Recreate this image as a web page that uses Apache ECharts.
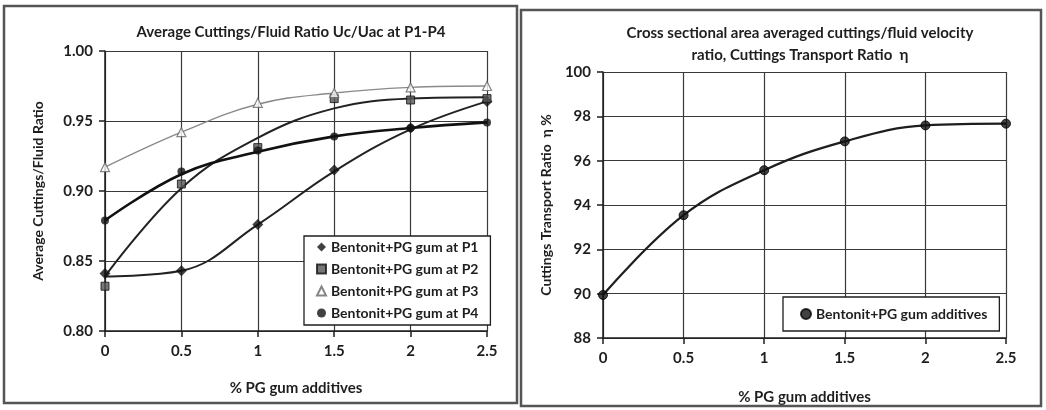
<!DOCTYPE html>
<html>
<head>
<meta charset="utf-8">
<script src="https://cdn.jsdelivr.net/npm/echarts@6/dist/echarts.min.js"></script>
<style>
  html, body { margin: 0; padding: 0; background: #fff; }
  #chart { width: 1046px; height: 410px; }
</style>
</head>
<body>
<div id="chart"></div>
<script>
// % PG gum additive concentrations
const gumPercent = [0, 0.5, 1, 1.5, 2, 2.5];

// Measured average cuttings/fluid velocity ratio at each probe position
const ratioP1 = [0.841, 0.843, 0.876, 0.915, 0.945, 0.964];
const ratioP2 = [0.832, 0.905, 0.931, 0.966, 0.965, 0.966];
const ratioP3 = [0.917, 0.942, 0.963, 0.970, 0.974, 0.975];
const ratioP4 = [0.879, 0.914, 0.929, 0.939, 0.945, 0.949];

// Fitted trend curve values at the same concentrations
const trendP1 = [0.839, 0.843, 0.876, 0.914, 0.944, 0.964];
const trendP2 = [0.839, 0.902, 0.938, 0.959, 0.966, 0.967];
const trendP3 = [0.917, 0.942, 0.962, 0.970, 0.974, 0.975];
const trendP4 = [0.879, 0.912, 0.928, 0.939, 0.945, 0.949];

// Cross-section averaged cuttings transport ratio (%)
const transportRatio = [89.94, 93.54, 95.57, 96.87, 97.59, 97.67];

// Axis tick settings
const leftTicks = { min: 0.80, max: 1.00, step: 0.05 };
const rightTicks = { min: 88, max: 100, step: 2 };
const xTicks = { min: 0, max: 2.5, step: 0.5 };

const seriesNames = [
  'Bentonit+PG gum at P1',
  'Bentonit+PG gum at P2',
  'Bentonit+PG gum at P3',
  'Bentonit+PG gum at P4'
];
const rightName = 'Bentonit+PG gum additives';

const pairs = (ys) => gumPercent.map((x, i) => [x, ys[i]]);

const FONT = 'Lato, "Open Sans", sans-serif';
const INK = '#1e1e1e';
const GRIDC = '#3a3a3a';

function xAxisCfg(gridIndex) {
  return {
    type: 'value', gridIndex,
    min: xTicks.min, max: xTicks.max, interval: xTicks.step,
    name: '% PG gum additives', nameLocation: 'middle',
    nameGap: gridIndex === 0 ? 50 : 52,
    nameTextStyle: { fontFamily: FONT, fontSize: 15, fontWeight: 'bold', color: INK },
    axisLine: { show: true, lineStyle: { color: INK, width: 1.5 } },
    axisTick: { show: true, inside: false, length: 6, lineStyle: { color: INK, width: 1.5 } },
    axisLabel: { fontFamily: FONT, fontSize: 15, fontWeight: 'bold', color: INK, margin: 13,
      formatter: (v) => String(v) },
    splitLine: { show: true, lineStyle: { color: GRIDC, width: 1.2 } }
  };
}

function yAxisCfg(gridIndex, t, name, digits) {
  return {
    type: 'value', gridIndex,
    min: t.min, max: t.max, interval: t.step,
    name, nameLocation: 'middle', nameGap: gridIndex === 0 ? 60 : 50,
    nameTextStyle: { fontFamily: FONT, fontSize: 14, fontWeight: 'bold', color: INK },
    axisLine: { show: true, lineStyle: { color: INK, width: 1.5 } },
    axisTick: { show: true, length: 6, lineStyle: { color: INK, width: 1.5 } },
    axisLabel: { fontFamily: FONT, fontSize: 15, fontWeight: 'bold', color: INK, margin: 12,
      formatter: (v) => v.toFixed(digits) },
    splitLine: { show: true, lineStyle: { color: GRIDC, width: 1.2 } }
  };
}

// Trend curve (line without symbols) for a data set
function trendLine(name, data, color, width, xi, yi) {
  return {
    name, type: 'line', xAxisIndex: xi, yAxisIndex: yi,
    data: pairs(data), smooth: 0.4, showSymbol: false, symbol: 'none',
    lineStyle: { color, width }, silent: true, z: 3,
    legendHoverLink: false
  };
}

// Markers for the measured values
function markers(name, data, symbol, size, itemStyle, xi, yi) {
  return {
    name, type: 'scatter', xAxisIndex: xi, yAxisIndex: yi,
    data: pairs(data), symbol, symbolSize: size, itemStyle, z: 5
  };
}

const chart = echarts.init(document.getElementById('chart'), null, { renderer: 'canvas' });

const legendText = { fontFamily: FONT, fontSize: 14, fontWeight: 'bold', color: INK };
const titleStyle = { fontFamily: FONT, fontSize: 15, fontWeight: 'bold', fill: INK, align: 'center', verticalAlign: 'middle' };

chart.setOption({
  backgroundColor: '#ffffff',
  animation: false,
  grid: [
    { left: 105, top: 51, width: 382, height: 280 },
    { left: 603, top: 72, width: 403, height: 266 }
  ],
  xAxis: [xAxisCfg(0), xAxisCfg(1)],
  yAxis: [
    yAxisCfg(0, leftTicks, 'Average Cuttings/Fluid Ratio', 2),
    yAxisCfg(1, rightTicks, 'Cuttings Transport Ratio  η %', 0)
  ],
  legend: [
    {
      data: seriesNames.map((n) => ({ name: n })),
      orient: 'vertical', left: 304, top: 236,
      itemWidth: 9, itemHeight: 9, itemGap: 8,
      padding: [4, 12, 5, 12],
      borderColor: INK, borderWidth: 1.3, backgroundColor: '#fff',
      textStyle: legendText, selectedMode: false
    },
    {
      data: [{ name: rightName }],
      left: 783, top: 297,
      itemWidth: 10, itemHeight: 10, itemGap: 4,
      padding: [10, 12, 10, 17],
      borderColor: INK, borderWidth: 1.3, backgroundColor: '#fff',
      textStyle: legendText, selectedMode: false
    }
  ],
  graphic: [
    { type: 'text', x: 291, y: 32, style: Object.assign({ text: 'Average Cuttings/Fluid Ratio Uc/Uac at P1-P4' }, titleStyle) },
    { type: 'text', x: 800, y: 33, style: Object.assign({ text: 'Cross sectional area averaged cuttings/fluid velocity' }, titleStyle) },
    { type: 'text', x: 800, y: 55, style: Object.assign({ text: 'ratio, Cuttings Transport Ratio  η' }, titleStyle) },
    { type: 'rect', shape: { x: 4, y: 6, width: 513, height: 397 },
      style: { fill: 'none', stroke: '#555', lineWidth: 2.5 }, z: 100 },
    { type: 'rect', shape: { x: 521, y: 10, width: 520, height: 396 },
      style: { fill: 'none', stroke: '#555', lineWidth: 2.5 }, z: 100 }
  ],
  series: [
    trendLine('tP1', trendP1, '#222', 2, 0, 0),
    trendLine('tP2', trendP2, '#222', 2, 0, 0),
    trendLine('tP3', trendP3, '#8a8a8a', 1.4, 0, 0),
    trendLine('tP4', trendP4, '#111', 2.6, 0, 0),
    markers(seriesNames[0], ratioP1, 'diamond', 11, { color: '#111' }, 0, 0),
    markers(seriesNames[1], ratioP2, 'rect', 8, { color: '#555', borderColor: '#111', borderWidth: 1 }, 0, 0),
    markers(seriesNames[2], ratioP3, 'triangle', 9, { color: '#fff', borderColor: '#666', borderWidth: 1.2 }, 0, 0),
    markers(seriesNames[3], ratioP4, 'circle', 8, { color: '#111' }, 0, 0),
    trendLine('tR', transportRatio, '#1e1e1e', 2.2, 1, 1),
    markers(rightName, transportRatio, 'circle', 9, { color: '#111', borderColor: '#000', borderWidth: 1 }, 1, 1)
  ]
});
</script>
</body>
</html>
